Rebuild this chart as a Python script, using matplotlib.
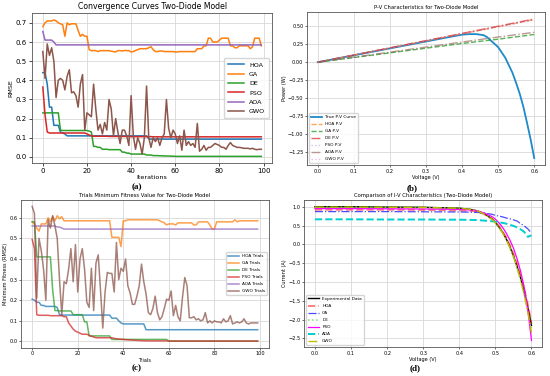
import numpy as np
import matplotlib.pyplot as plt

# ---- (a) convergence curves, RMSE per iteration ----
iterations = np.arange(100)

hoa_rmse = [0.44, 0.44, 0.38, 0.26, 0.26, 0.165, 0.165, 0.165, 0.13, 0.125,
            0.12, 0.11, 0.11, 0.11, 0.11, 0.11, 0.11, 0.11, 0.11, 0.11,
            0.11, 0.11, 0.11, 0.11, 0.11, 0.11, 0.11, 0.11, 0.11, 0.11,
            0.11, 0.11, 0.11, 0.11, 0.11, 0.11, 0.11, 0.11, 0.11, 0.11,
            0.11, 0.11, 0.11, 0.11, 0.11, 0.11, 0.11, 0.11, 0.095, 0.093,
            0.093, 0.093, 0.093, 0.093, 0.093, 0.093, 0.093, 0.093, 0.093, 0.093,
            0.093, 0.093, 0.093, 0.093, 0.093, 0.093, 0.093, 0.093, 0.093, 0.093,
            0.093, 0.093, 0.093, 0.093, 0.093, 0.093, 0.093, 0.093, 0.093, 0.093,
            0.093, 0.093, 0.093, 0.093, 0.093, 0.093, 0.093, 0.093, 0.093, 0.093,
            0.093, 0.093, 0.093, 0.093, 0.093, 0.093, 0.093, 0.093, 0.093, 0.093]

ga_rmse = [0.68, 0.70, 0.71, 0.71, 0.71, 0.715, 0.71, 0.70, 0.695, 0.69,
           0.63, 0.70, 0.69, 0.695, 0.695, 0.695, 0.66, 0.63, 0.64, 0.63,
           0.63, 0.56, 0.555, 0.555, 0.555, 0.55, 0.555, 0.555, 0.555, 0.555,
           0.555, 0.552, 0.55, 0.548, 0.555, 0.555, 0.553, 0.556, 0.555, 0.555,
           0.548, 0.55, 0.556, 0.56, 0.565, 0.565, 0.565, 0.565, 0.57, 0.575,
           0.56, 0.55, 0.55, 0.553, 0.553, 0.55, 0.55, 0.55, 0.55, 0.55,
           0.548, 0.548, 0.55, 0.55, 0.55, 0.55, 0.55, 0.55, 0.55, 0.55,
           0.565, 0.565, 0.565, 0.58, 0.58, 0.62, 0.62, 0.60, 0.60, 0.60,
           0.61, 0.62, 0.62, 0.62, 0.62, 0.58, 0.58, 0.57, 0.57, 0.58,
           0.58, 0.58, 0.58, 0.58, 0.565, 0.575, 0.62, 0.62, 0.62, 0.58]

de_rmse = [0.23, 0.23, 0.23, 0.23, 0.23, 0.23, 0.23, 0.23, 0.14, 0.138,
           0.138, 0.138, 0.138, 0.138, 0.138, 0.138, 0.138, 0.138, 0.138, 0.138,
           0.138, 0.135, 0.13, 0.055, 0.055, 0.05, 0.05, 0.04, 0.04, 0.04,
           0.038, 0.038, 0.038, 0.038, 0.038, 0.038, 0.025, 0.025, 0.02, 0.02,
           0.015, 0.015, 0.015, 0.015, 0.015, 0.015, 0.015, 0.01, 0.01, 0.01,
           0.007, 0.007, 0.007, 0.006, 0.006, 0.005, 0.005, 0.005, 0.004, 0.004,
           0.003, 0.003, 0.003, 0.003, 0.003, 0.003, 0.003, 0.003, 0.003, 0.003,
           0.003, 0.003, 0.003, 0.003, 0.003, 0.003, 0.003, 0.003, 0.003, 0.003,
           0.003, 0.003, 0.003, 0.003, 0.003, 0.003, 0.003, 0.003, 0.003, 0.003,
           0.003, 0.003, 0.003, 0.003, 0.003, 0.003, 0.003, 0.003, 0.003, 0.003]

pso_rmse = [0.365, 0.22, 0.13, 0.125, 0.125, 0.125, 0.125, 0.125, 0.125, 0.125,
            0.125, 0.125, 0.125, 0.125, 0.125, 0.125, 0.125, 0.125, 0.125, 0.125,
            0.12, 0.115, 0.11, 0.108, 0.108, 0.108, 0.108, 0.108, 0.108, 0.108,
            0.107, 0.107, 0.107, 0.107, 0.107, 0.107, 0.107, 0.107, 0.107, 0.107,
            0.106, 0.106, 0.106, 0.106, 0.106, 0.106, 0.106, 0.106, 0.106, 0.106,
            0.105, 0.105, 0.105, 0.105, 0.105, 0.105, 0.105, 0.105, 0.105, 0.105,
            0.105, 0.105, 0.105, 0.105, 0.105, 0.105, 0.105, 0.105, 0.105, 0.105,
            0.105, 0.105, 0.105, 0.105, 0.105, 0.105, 0.105, 0.105, 0.105, 0.105,
            0.105, 0.105, 0.105, 0.105, 0.105, 0.105, 0.105, 0.105, 0.105, 0.105,
            0.105, 0.105, 0.105, 0.105, 0.105, 0.105, 0.105, 0.105, 0.105, 0.105]

aoa_rmse = [0.655, 0.61, 0.61, 0.61, 0.61, 0.60, 0.585] + [0.585] * 93

gwo_rmse = [0.55, 0.41, 0.59, 0.53, 0.57, 0.50, 0.31, 0.40, 0.41, 0.40,
            0.35, 0.42, 0.455, 0.335, 0.34, 0.32, 0.26, 0.38, 0.43, 0.14,
            0.23, 0.22, 0.21, 0.38, 0.25, 0.14, 0.17, 0.12, 0.18, 0.14,
            0.30, 0.25, 0.11, 0.20, 0.13, 0.07, 0.14, 0.14, 0.11, 0.06,
            0.32, 0.11, 0.04, 0.10, 0.07, 0.015, 0.10, 0.37, 0.10, 0.05,
            0.10, 0.08, 0.10, 0.06, 0.10, 0.12, 0.30, 0.15, 0.10, 0.14,
            0.12, 0.07, 0.11, 0.035, 0.14, 0.06, 0.08, 0.06, 0.07, 0.05,
            0.175, 0.03, 0.04, 0.06, 0.035, 0.05, 0.05, 0.06, 0.07, 0.065,
            0.06, 0.05, 0.05, 0.04, 0.06, 0.075, 0.06, 0.055, 0.05, 0.05,
            0.048, 0.045, 0.045, 0.045, 0.042, 0.045, 0.04, 0.038, 0.04, 0.04]

# ---- (b) P-V characteristics ----
v_true = [0.0, 0.1, 0.2, 0.3, 0.4, 0.42, 0.44, 0.46, 0.47, 0.48, 0.50, 0.52,
          0.54, 0.55, 0.56, 0.57, 0.58, 0.59, 0.60]
p_true = [0.0, 0.096, 0.192, 0.288, 0.383, 0.39, 0.39, 0.375, 0.345, 0.30, 0.21, 0.06,
          -0.15, -0.29, -0.44, -0.62, -0.84, -1.07, -1.33]

v_fit = [0.0, 0.1, 0.2, 0.3, 0.4, 0.5, 0.6]
p_hoa = [0.0, 0.099, 0.197, 0.296, 0.395, 0.493, 0.592]
p_ga = [0.0, 0.065, 0.13, 0.195, 0.26, 0.32, 0.385]
p_de = [0.0, 0.1, 0.2, 0.3, 0.4, 0.5, 0.6]
p_pso = [0.0, 0.098, 0.196, 0.294, 0.392, 0.49, 0.588]
p_aoa = [0.0, 0.07, 0.14, 0.21, 0.28, 0.35, 0.415]
p_gwo = [0.0, 0.099, 0.198, 0.297, 0.396, 0.495, 0.594]

# ---- (c) trials minimum fitness ----
trials = np.arange(100)

hoa_trials = [0.205, 0.2, 0.19, 0.19, 0.175, 0.175, 0.17, 0.17, 0.17, 0.17,
              0.17, 0.165, 0.13, 0.128, 0.128, 0.128, 0.128, 0.128, 0.128, 0.128,
              0.128, 0.128, 0.128, 0.128, 0.128, 0.128, 0.128, 0.128, 0.128, 0.128,
              0.128, 0.128, 0.128, 0.128, 0.128, 0.113, 0.113, 0.113, 0.10, 0.09,
              0.085, 0.085, 0.085, 0.085, 0.085, 0.085, 0.085, 0.085, 0.085, 0.085,
              0.057] + [0.057] * 49

ga_trials = [0.58, 0.57, 0.55, 0.535, 0.57, 0.57, 0.57, 0.60, 0.58, 0.605,
             0.585, 0.61, 0.595, 0.605, 0.585, 0.585, 0.585, 0.585, 0.585, 0.585,
             0.585, 0.585, 0.585, 0.585, 0.585, 0.585, 0.585, 0.585, 0.585, 0.585,
             0.585, 0.585, 0.585, 0.585, 0.585, 0.505, 0.505, 0.505, 0.505, 0.46,
             0.585, 0.585, 0.59, 0.59, 0.59, 0.59, 0.59, 0.59, 0.59, 0.59,
             0.59, 0.59, 0.59, 0.59, 0.59, 0.59, 0.585, 0.58, 0.575, 0.565,
             0.57, 0.57, 0.57, 0.565, 0.575, 0.575, 0.575, 0.575, 0.575, 0.575,
             0.575, 0.565, 0.565, 0.58, 0.58, 0.58, 0.58, 0.58, 0.565, 0.545,
             0.545, 0.58, 0.58, 0.58, 0.58, 0.58, 0.58, 0.58, 0.58, 0.59,
             0.58, 0.585, 0.585, 0.585, 0.585, 0.585, 0.585, 0.585, 0.585, 0.585]

de_trials = [0.58, 0.58, 0.41, 0.41, 0.41, 0.41, 0.41, 0.41, 0.41, 0.25,
             0.15, 0.15, 0.148, 0.148, 0.148, 0.148, 0.148, 0.148, 0.13, 0.13,
             0.13, 0.13, 0.13, 0.095, 0.095, 0.027, 0.027, 0.027, 0.027, 0.027,
             0.027, 0.027, 0.027, 0.027, 0.027, 0.01, 0.01, 0.01, 0.01, 0.01,
             0.01, 0.01, 0.01, 0.01, 0.01, 0.01, 0.01, 0.01, 0.01, 0.01,
             0.01, 0.01, 0.01, 0.01, 0.01, 0.01, 0.01, 0.01, 0.01, 0.01,
             0.002] + [0.002] * 39

pso_trials = [0.495, 0.45, 0.13, 0.127, 0.127, 0.127, 0.127, 0.127, 0.125, 0.125,
              0.125, 0.125, 0.125, 0.125, 0.12, 0.12, 0.09, 0.075, 0.06, 0.05,
              0.045, 0.04, 0.035, 0.035, 0.035, 0.03, 0.025, 0.022, 0.018, 0.018,
              0.018, 0.018, 0.018, 0.018, 0.018, 0.018, 0.015, 0.013, 0.012, 0.011,
              0.01, 0.009, 0.008, 0.007, 0.007, 0.006, 0.005, 0.005, 0.004, 0.004,
              0.003, 0.003, 0.003, 0.003, 0.003, 0.003, 0.003, 0.003, 0.003, 0.003,
              0.002] + [0.002] * 39

aoa_trials = [0.56] * 11 + [0.555, 0.555, 0.55] + [0.545] * 86

gwo_trials = [0.655, 0.62, 0.21, 0.50, 0.44, 0.35, 0.20, 0.59, 0.55, 0.61,
              0.56, 0.50, 0.30, 0.13, 0.29, 0.28, 0.35, 0.45, 0.29, 0.47,
              0.24, 0.40, 0.45, 0.35, 0.19, 0.165, 0.355, 0.15, 0.38, 0.42,
              0.25, 0.065, 0.24, 0.335, 0.33, 0.33, 0.24, 0.48, 0.30, 0.355,
              0.34, 0.40, 0.27, 0.235, 0.18, 0.18, 0.22, 0.27, 0.375, 0.29,
              0.23, 0.14, 0.13, 0.16, 0.22, 0.14, 0.105, 0.12, 0.16, 0.205,
              0.20, 0.245, 0.125, 0.175, 0.12, 0.10, 0.215, 0.31, 0.27, 0.115,
              0.115, 0.12, 0.105, 0.11, 0.10, 0.105, 0.14, 0.09, 0.10, 0.09,
              0.10, 0.095, 0.095, 0.09, 0.11, 0.095, 0.10, 0.125, 0.085, 0.09,
              0.095, 0.09, 0.095, 0.11, 0.09, 0.085, 0.09, 0.09, 0.09, 0.09]

# ---- (d) I-V characteristics ----
v_iv = [0.0, 0.1, 0.2, 0.3, 0.4, 0.43, 0.45, 0.47, 0.49, 0.50, 0.51, 0.52,
        0.53, 0.54, 0.55, 0.56, 0.57, 0.58, 0.59, 0.60]
i_exp = [1.00, 1.00, 0.99, 0.985, 0.96, 0.93, 0.89, 0.81, 0.68, 0.58, 0.46, 0.32,
         0.15, -0.06, -0.30, -0.58, -0.90, -1.26, -1.68, -2.15]
i_hoa = [0.92, 0.92, 0.92, 0.915, 0.90, 0.89, 0.87, 0.80, 0.68, 0.59, 0.48, 0.34,
         0.18, -0.02, -0.25, -0.52, -0.83, -1.18, -1.60, -2.10]
i_ga = [0.87, 0.87, 0.87, 0.865, 0.86, 0.855, 0.85, 0.83, 0.80, 0.77, 0.75, 0.73,
        0.70, 0.68, 0.65, 0.62, 0.55, 0.49, 0.41, 0.30]
i_de = [0.99, 0.99, 0.985, 0.98, 0.96, 0.93, 0.89, 0.80, 0.67, 0.57, 0.45, 0.30,
        0.12, -0.09, -0.34, -0.63, -0.96, -1.33, -1.75, -2.22]
i_pso = [0.95, 0.95, 0.945, 0.94, 0.93, 0.915, 0.89, 0.83, 0.74, 0.67, 0.57, 0.45,
         0.30, 0.12, -0.10, -0.38, -0.72, -1.15, -1.75, -2.55]
i_aoa = [0.665, 0.665, 0.66, 0.66, 0.655, 0.65, 0.645, 0.63, 0.615, 0.60, 0.585, 0.57,
         0.55, 0.52, 0.49, 0.45, 0.40, 0.33, 0.20, 0.24]
i_gwo = [0.99, 0.99, 0.985, 0.98, 0.96, 0.93, 0.89, 0.80, 0.67, 0.57, 0.45, 0.31,
         0.13, -0.08, -0.32, -0.61, -0.95, -1.35, -1.80, -2.35]

algos = ['HOA', 'GA', 'DE', 'PSO', 'AOA', 'GWO']
tab_colors = ['tab:blue', 'tab:orange', 'tab:green', 'tab:red', 'tab:purple', 'tab:brown']

fig = plt.figure(figsize=(5.5, 3.76), dpi=100)
ax_a = fig.add_axes([0.058, 0.566, 0.437, 0.399])
ax_b = fig.add_axes([0.558, 0.561, 0.433, 0.407])
ax_c = fig.add_axes([0.038, 0.075, 0.451, 0.394])
ax_d = fig.add_axes([0.553, 0.077, 0.433, 0.391])

small = 3.6
grid_kw = dict(color='#d8d8d8', linewidth=0.6)

# (a)
for name, vals, c in zip(algos, [hoa_rmse, ga_rmse, de_rmse, pso_rmse, aoa_rmse, gwo_rmse], tab_colors):
    ax_a.plot(iterations, vals, color=c, linewidth=1.1, label=name)
ax_a.set_title('Convergence Curves Two-Diode Model', fontsize=5.6, pad=3)
ax_a.set_xlabel('Iterations', fontsize=4.6, labelpad=1)
ax_a.set_ylabel('RMSE', fontsize=4.6, labelpad=2)
ax_a.tick_params(labelsize=5, length=2, width=0.5, pad=1.5)
ax_a.grid(True, **grid_kw)
ax_a.legend(loc='center right', fontsize=4.6, handlelength=2.5, borderpad=0.6, labelspacing=0.6)

# (b)
ax_b.plot(v_true, p_true, color='#1f8ac8', linewidth=1.3, label='True P-V Curve')
ax_b.plot(v_fit, p_hoa, '--', color='tab:orange', alpha=0.7, linewidth=1, label='HOA P-V')
ax_b.plot(v_fit, p_ga, '--', color='tab:green', alpha=0.8, linewidth=1, label='GA P-V')
ax_b.plot(v_fit, p_de, '-.', color='tab:red', alpha=0.7, linewidth=1, label='DE P-V')
ax_b.plot(v_fit, p_pso, ':', color='tab:purple', alpha=0.4, linewidth=1, label='PSO P-V')
ax_b.plot(v_fit, p_aoa, '-.', color='tab:brown', alpha=0.6, linewidth=1, label='AOA P-V')
ax_b.plot(v_fit, p_gwo, ':', color='tab:pink', alpha=0.5, linewidth=1, label='GWO P-V')
ax_b.set_title('P-V Characteristics for Two-Diode Model', fontsize=3.8, pad=2)
ax_b.set_xlabel('Voltage (V)', fontsize=small, labelpad=1)
ax_b.set_ylabel('Power (W)', fontsize=small, labelpad=1)
ax_b.grid(True, **grid_kw)
ax_b.legend(loc='lower left', fontsize=3.1, handlelength=2.5, labelspacing=0.7)

# (c)
for name, vals, c in zip(algos, [hoa_trials, ga_trials, de_trials, pso_trials, aoa_trials, gwo_trials], tab_colors):
    ax_c.plot(trials, vals, color=c, alpha=0.75, linewidth=1.1, label=name + ' Trials')
ax_c.set_title('Trials Minimum Fitness Value for Two-Diode Model', fontsize=3.8, pad=2)
ax_c.set_xlabel('Trials', fontsize=small, labelpad=1)
ax_c.set_ylabel('Minimum Fitness (RMSE)', fontsize=small, labelpad=1)
ax_c.grid(True, **grid_kw)
ax_c.legend(loc='center right', fontsize=3.1, handlelength=2.5, labelspacing=0.7)

# (d)
ax_d.plot(v_iv, i_exp, 'k-', linewidth=1, label='Experimental Data')
ax_d.plot(v_iv, i_hoa, '--', color='red', alpha=0.5, linewidth=1.4, label='HOA')
ax_d.plot(v_iv, i_ga, '-.', color='blue', alpha=0.7, linewidth=0.9, label='GA')
ax_d.plot(v_iv, i_de, ':', color='limegreen', alpha=0.6, linewidth=1.1, label='DE')
ax_d.plot(v_iv, i_pso, '-', color='magenta', linewidth=0.9, label='PSO')
ax_d.plot(v_iv, i_aoa, '--', color='darkturquoise', linewidth=1.4, label='AOA')
ax_d.plot(v_iv, i_gwo, '-.', color='y', linewidth=1, label='GWO')
ax_d.set_title('Comparison of I-V Characteristics (Two-Diode Model)', fontsize=3.8, pad=2)
ax_d.set_xlabel('Voltage (V)', fontsize=small, labelpad=1)
ax_d.set_ylabel('Current (A)', fontsize=small, labelpad=1)
ax_d.grid(True, **grid_kw)
ax_d.legend(loc='lower left', fontsize=3.1, handlelength=2.5, labelspacing=0.7)

for ax in [ax_b, ax_c, ax_d]:
    ax.tick_params(labelsize=small, length=1.5, width=0.4, pad=1)
for ax in [ax_a, ax_b, ax_c, ax_d]:
    for s in ax.spines.values():
        s.set_linewidth(0.6)
        s.set_color('#555555')

lab = dict(fontsize=6.5, fontweight='bold', family='Liberation Serif', ha='center', va='center')
fig.text(137 / 550, 1 - 187 / 376, '(a)', **lab)
fig.text(412 / 550, 1 - 188 / 376, '(b)', **lab)
fig.text(137 / 550, 1 - 368 / 376, '(c)', **lab)
fig.text(415 / 550, 1 - 368 / 376, '(d)', **lab)

fig.savefig('out.png', dpi=100)
